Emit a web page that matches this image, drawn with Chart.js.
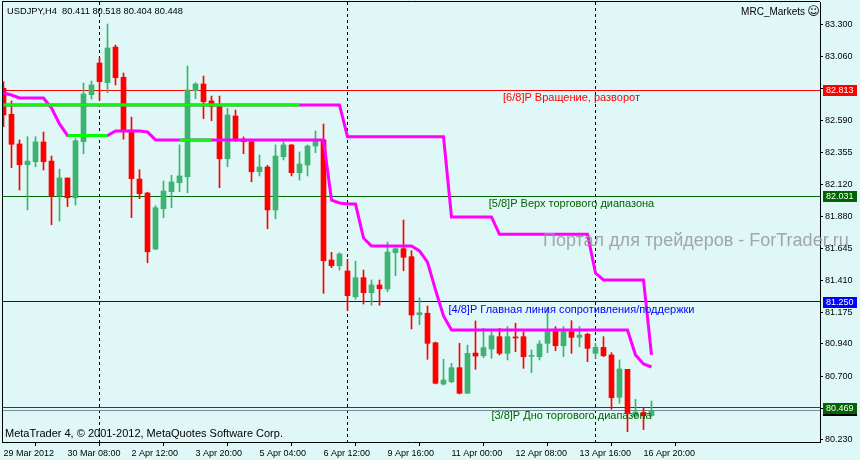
<!DOCTYPE html>
<html lang="ru">
<head>
<meta charset="UTF-8">
<title>USDJPY,H4</title>
<script src="https://cdn.jsdelivr.net/npm/chart.js"></script>
<style>
  html, body { margin: 0; padding: 0; background: #E0F7F7; }
  #wrap { width: 860px; height: 460px; }
</style>
</head>
<body>
<div id="wrap"><canvas id="chart" width="860" height="460"></canvas></div>
<script>
// ---- candles (H4 bars, oldest first) ----
const opens = [
  82.827, 82.635, 82.416, 82.263, 82.285, 82.431, 82.290, 82.032, 82.165, 82.019,
  82.433, 82.780, 83.014, 82.869, 83.132, 82.909, 82.519, 82.157, 82.054, 81.640,
  81.938, 82.064, 82.130, 82.174, 82.810, 82.859, 82.734, 82.697, 82.307, 82.623,
  82.451, 82.433, 82.211, 82.246, 81.929, 82.322, 82.409, 82.204, 82.261, 82.401,
  82.446, 81.559, 81.517, 81.478, 81.288, 81.429, 81.318, 81.375, 81.345, 81.613,
  81.643, 81.584, 81.155, 81.166, 80.948, 80.643, 80.660, 80.764, 80.575, 80.872,
  80.852, 80.902, 80.993, 80.870, 80.991, 80.993, 80.848, 80.845, 80.944, 81.042,
  80.926, 81.030, 80.988, 81.011, 80.870, 80.914, 80.858, 80.545, 80.752, 80.407,
  80.434, 80.411
];
const highs = [
  82.876, 82.734, 82.446, 82.470, 82.470, 82.505, 82.327, 82.231, 82.165, 82.455,
  82.866, 82.881, 83.053, 83.302, 83.147, 82.940, 82.615, 82.226, 82.060, 81.960,
  82.143, 82.185, 82.409, 82.992, 82.869, 82.918, 82.770, 82.770, 82.680, 82.667,
  82.468, 82.446, 82.335, 82.259, 82.409, 82.433, 82.412, 82.357, 82.409, 82.512,
  82.564, 81.616, 81.613, 81.564, 81.552, 81.485, 81.412, 81.412, 81.692, 81.650,
  81.855, 81.628, 81.279, 81.220, 80.953, 80.826, 80.796, 80.944, 80.931, 81.109,
  81.055, 81.030, 81.055, 81.067, 81.092, 81.030, 80.895, 80.963, 81.210, 81.067,
  81.067, 81.111, 81.067, 81.018, 80.944, 80.993, 80.875, 80.821, 80.752, 80.530,
  80.471, 80.518
];
const lows = [
  82.544, 82.241, 82.076, 81.929, 82.248, 82.224, 81.820, 81.847, 81.953, 81.965,
  82.344, 82.748, 82.741, 82.795, 82.852, 82.451, 81.872, 82.012, 81.539, 81.635,
  81.872, 81.945, 82.064, 82.056, 82.751, 82.603, 82.588, 82.093, 82.248, 82.434,
  82.344, 82.137, 82.180, 81.790, 81.862, 82.298, 82.180, 82.150, 82.180, 82.352,
  81.313, 81.502, 81.485, 81.185, 81.269, 81.234, 81.225, 81.225, 81.325, 81.443,
  81.480, 81.050, 81.081, 80.826, 80.644, 80.636, 80.653, 80.570, 80.575, 80.752,
  80.838, 80.833, 80.858, 80.821, 80.882, 80.759, 80.727, 80.821, 80.875, 80.889,
  80.845, 80.870, 80.919, 80.808, 80.833, 80.845, 80.457, 80.501, 80.291, 80.393,
  80.307, 80.404
];
const closes = [
  82.630, 82.414, 82.263, 82.290, 82.431, 82.285, 82.032, 82.165, 82.019, 82.440,
  82.785, 82.852, 82.876, 83.125, 82.906, 82.514, 82.160, 82.049, 81.620, 81.945,
  82.069, 82.135, 82.180, 82.815, 82.859, 82.728, 82.691, 82.307, 82.630, 82.440,
  82.433, 82.211, 82.246, 81.929, 82.327, 82.409, 82.204, 82.268, 82.401, 82.451,
  81.554, 81.517, 81.604, 81.296, 81.429, 81.318, 81.375, 81.347, 81.618, 81.643,
  81.579, 81.153, 81.170, 80.944, 80.649, 80.673, 80.764, 80.575, 80.870, 80.850,
  80.912, 81.000, 80.870, 80.993, 80.983, 80.845, 80.852, 80.939, 81.042, 80.926,
  81.030, 80.988, 81.005, 80.907, 80.914, 80.852, 80.542, 80.754, 80.427, 80.437,
  80.409, 80.448
];

// ---- MRC indicator lines ----
const mrcUpper = [
  82.704, 82.704, 82.704, 82.704, 82.704, 82.704, 82.704, 82.704, 82.704, 82.704,
  82.704, 82.704, 82.704, 82.704, 82.704, 82.704, 82.704, 82.704, 82.704, 82.704,
  82.704, 82.704, 82.704, 82.704, 82.704, 82.704, 82.704, 82.704, 82.704, 82.704,
  82.704, 82.704, 82.704, 82.704, 82.704, 82.704, 82.704, 82.704, 82.704, 82.704,
  82.704, 82.704, 82.704, 82.470, 82.470, 82.470, 82.470, 82.470, 82.470, 82.470,
  82.470, 82.470, 82.470, 82.470, 82.470, 82.470, 81.877, 81.877, 81.877, 81.877,
  81.877, 81.877, 81.749, 81.749, 81.749, 81.749, 81.749, 81.749, 81.749, 81.749,
  81.749, 81.749, 81.749, 81.749, 81.463, 81.412, 81.412, 81.412, 81.412, 81.412,
  81.412, 80.858
];
const mrcLower = [
  82.793, 82.778, 82.756, 82.756, 82.756, 82.756, 82.682, 82.564, 82.479, 82.479,
  82.479, 82.479, 82.479, 82.479, 82.512, 82.512, 82.512, 82.512, 82.505, 82.446,
  82.446, 82.446, 82.446, 82.446, 82.446, 82.446, 82.446, 82.446, 82.446, 82.446,
  82.446, 82.446, 82.446, 82.446, 82.446, 82.446, 82.446, 82.446, 82.446, 82.446,
  82.446, 82.002, 81.980, 81.973, 81.973, 81.722, 81.663, 81.663, 81.663, 81.663,
  81.663, 81.663, 81.626, 81.544, 81.338, 81.146, 81.042, 81.042, 81.042, 81.042,
  81.042, 81.042, 81.042, 81.042, 81.042, 81.042, 81.042, 81.042, 81.042, 81.042,
  81.042, 81.042, 81.042, 81.042, 81.042, 81.042, 81.042, 81.042, 81.042, 80.858,
  80.791, 80.769
];
// bar ranges where the lines are shown in lime
const upperLime = [[0, 37]];
const lowerLime = [[8, 13], [22, 26]];

// ---- Murrey levels ----
const levels = [82.813, 82.031, 81.250, 80.469];
const levelNames = [
  '[6/8]P Вращение, разворот',
  '[5/8]P Верх торгового диапазона',
  '[4/8]P Главная линия сопротивления/поддержки',
  '[3/8]P Дно торгового диапазона'
];
const levelColors = ['#FF0000', '#006400', '#0000FF', '#006400'];
const levelLabelBar = 71;

// ---- axes ----
const yTicks = [83.300, 83.060, 82.825, 82.590, 82.355, 82.120, 81.880, 81.645,
                81.410, 81.175, 80.940, 80.700, 80.465, 80.230];
const xTickBars = [0, 8, 16, 24, 32, 40, 48, 56, 64, 72, 80];
const xTickLabels = ['29 Mar 2012', '30 Mar 08:00', '2 Apr 12:00', '3 Apr 20:00',
  '5 Apr 04:00', '6 Apr 12:00', '9 Apr 16:00', '11 Apr 00:00', '12 Apr 08:00',
  '13 Apr 16:00', '16 Apr 20:00'];
const separators = [12, 43, 74];

const BG = '#E0F7F7';
const BULL = '#3CB371';
const BEAR = '#FF0000';
const FONT = '"Liberation Sans", Arial, "DejaVu Sans", sans-serif';

function pick(values, ranges) {
  return values.map((v, i) => ({
    x: i,
    y: ranges.some(r => i >= r[0] && i <= r[1]) ? v : null
  }));
}

const candleColors = closes.map((c, i) => c >= opens[i] ? BULL : BEAR);
const last = opens.length - 1;
const bid = closes[last];

const mt4 = {
  id: 'mt4',
  beforeDraw(chart) {
    const ctx = chart.ctx;
    ctx.save();
    ctx.fillStyle = BG;
    ctx.fillRect(0, 0, chart.width, chart.height);
    ctx.restore();
  },
  beforeDatasetsDraw(chart) {
    const { ctx, chartArea: a, scales: { x, y } } = chart;
    ctx.save();
    ctx.beginPath();
    ctx.rect(a.left, a.top, a.right - a.left, a.bottom - a.top);
    ctx.clip();
    ctx.lineWidth = 1;

    // period separators
    ctx.strokeStyle = '#000';
    ctx.setLineDash([3, 3]);
    separators.forEach(b => {
      const px = Math.floor(x.getPixelForValue(b)) + 0.5;
      ctx.beginPath();
      ctx.moveTo(px, a.top);
      ctx.lineTo(px, a.bottom);
      ctx.stroke();
    });
    ctx.setLineDash([]);

    // bid line
    let py = Math.floor(y.getPixelForValue(bid)) + 0.5;
    ctx.strokeStyle = '#778899';
    ctx.beginPath(); ctx.moveTo(a.left, py); ctx.lineTo(a.right, py); ctx.stroke();

    // levels
    levels.forEach((lv, k) => {
      py = Math.floor(y.getPixelForValue(lv)) + 0.5;
      ctx.strokeStyle = levelColors[k];
      ctx.beginPath(); ctx.moveTo(a.left, py); ctx.lineTo(a.right, py); ctx.stroke();
    });
    ctx.restore();
  },
  afterDraw(chart) {
    const { ctx, chartArea: a, scales: { x, y } } = chart;
    ctx.save();

    // frame
    ctx.strokeStyle = '#000';
    ctx.lineWidth = 1;
    ctx.beginPath();
    ctx.moveTo(a.left + 0.5, a.bottom);
    ctx.lineTo(a.left + 0.5, a.top - 0.5);
    ctx.lineTo(a.right, a.top - 0.5);
    ctx.stroke();

    // level captions
    ctx.font = '11px ' + FONT;
    ctx.textAlign = 'center';
    ctx.textBaseline = 'middle';
    levels.forEach((lv, k) => {
      ctx.fillStyle = levelColors[k];
      ctx.fillText(levelNames[k], x.getPixelForValue(levelLabelBar), y.getPixelForValue(lv) + 8);
    });

    // price boxes on the axis
    ctx.font = '9px ' + FONT;
    ctx.textAlign = 'left';
    const box = (price, color) => {
      const py = Math.round(y.getPixelForValue(price));
      ctx.fillStyle = color;
      ctx.fillRect(a.right + 3, py - 5, 34, 11);
      ctx.fillStyle = '#fff';
      ctx.fillText(price.toFixed(3), a.right + 6, py + 0.5);
    };
    box(bid, '#000');
    levels.forEach((lv, k) => box(lv, levelColors[k]));

    // texts
    ctx.fillStyle = '#000';
    ctx.font = '9.3px ' + FONT;
    ctx.fillText('USDJPY,H4  ' + [opens[last], highs[last], lows[last], closes[last]]
      .map(v => v.toFixed(3)).join(' '), 7, 11);
    ctx.textAlign = 'right';
    ctx.font = '10px ' + FONT;
    ctx.fillText('MRC_Markets', 805, 12);
    ctx.textAlign = 'center';
    ctx.font = '12px "DejaVu Sans", sans-serif';
    ctx.fillText('\u263A', 813.5, 12);
    ctx.textAlign = 'left';
    ctx.font = '11px ' + FONT;
    ctx.fillText('MetaTrader 4, \u00A9 2001-2012, MetaQuotes Software Corp.', 5, 434);

    // watermark
    ctx.font = '18px ' + FONT;
    ctx.fillStyle = 'rgba(150,150,150,0.85)';
    ctx.fillText('Портал для трейдеров - ForTrader.ru', 543, 241);
    ctx.restore();
  }
};

Chart.defaults.font.family = FONT;
Chart.defaults.font.size = 9;
Chart.defaults.color = '#000';

new Chart(document.getElementById('chart'), {
  type: 'bar',
  data: {
    datasets: [
      {
        type: 'line',
        data: pick(mrcUpper, upperLime),
        borderColor: '#00FF00',
        borderWidth: 3,
        pointRadius: 0,
        spanGaps: false,
        order: 0
      },
      {
        type: 'line',
        data: pick(mrcLower, lowerLime),
        borderColor: '#00FF00',
        borderWidth: 3,
        pointRadius: 0,
        spanGaps: false,
        order: 0
      },
      {
        type: 'line',
        data: mrcUpper.map((v, i) => ({ x: i, y: v })),
        borderColor: '#FF00FF',
        borderWidth: 3,
        pointRadius: 0,
        order: 1
      },
      {
        type: 'line',
        data: mrcLower.map((v, i) => ({ x: i, y: v })),
        borderColor: '#FF00FF',
        borderWidth: 3,
        pointRadius: 0,
        order: 1
      },
      {
        data: opens.map((o, i) => ({ x: i, y: [o, closes[i]] })),
        backgroundColor: candleColors,
        barThickness: 5,
        minBarLength: 1,
        grouped: false,
        order: 2
      },
      {
        data: lows.map((l, i) => ({ x: i, y: [l, highs[i]] })),
        backgroundColor: candleColors,
        barThickness: 1,
        grouped: false,
        order: 3
      }
    ]
  },
  options: {
    responsive: false,
    animation: false,
    layout: { autoPadding: false, padding: { top: 2, left: 2, right: 0, bottom: 0 } },
    plugins: { legend: { display: false }, tooltip: { enabled: false } },
    scales: {
      x: {
        type: 'linear',
        offset: false,
        min: -0.1875,
        max: 102.0625,
        grid: { drawOnChartArea: false, tickLength: 4, color: '#000' },
        border: { display: true, color: '#000' },
        ticks: {
          autoSkip: false, maxRotation: 0, align: 'start', padding: 2,
          callback: v => xTickLabels[xTickBars.indexOf(v)]
        },
        afterBuildTicks: s => { s.ticks = xTickBars.map(v => ({ value: v })); },
        afterFit: s => { s.height = 18; s.paddingLeft = 0; s.paddingRight = 0; }
      },
      y: {
        position: 'right',
        min: 80.2151,
        max: 83.4647,
        grid: { drawOnChartArea: false, tickLength: 3, color: '#000' },
        border: { display: true, color: '#000' },
        ticks: {
          autoSkip: false, padding: 2,
          callback: v => v.toFixed(3)
        },
        afterBuildTicks: s => { s.ticks = yTicks.map(v => ({ value: v })); },
        afterFit: s => { s.width = 40; s.paddingTop = 0; s.paddingBottom = 0; }
      }
    }
  },
  plugins: [mt4]
});
</script>
</body>
</html>
